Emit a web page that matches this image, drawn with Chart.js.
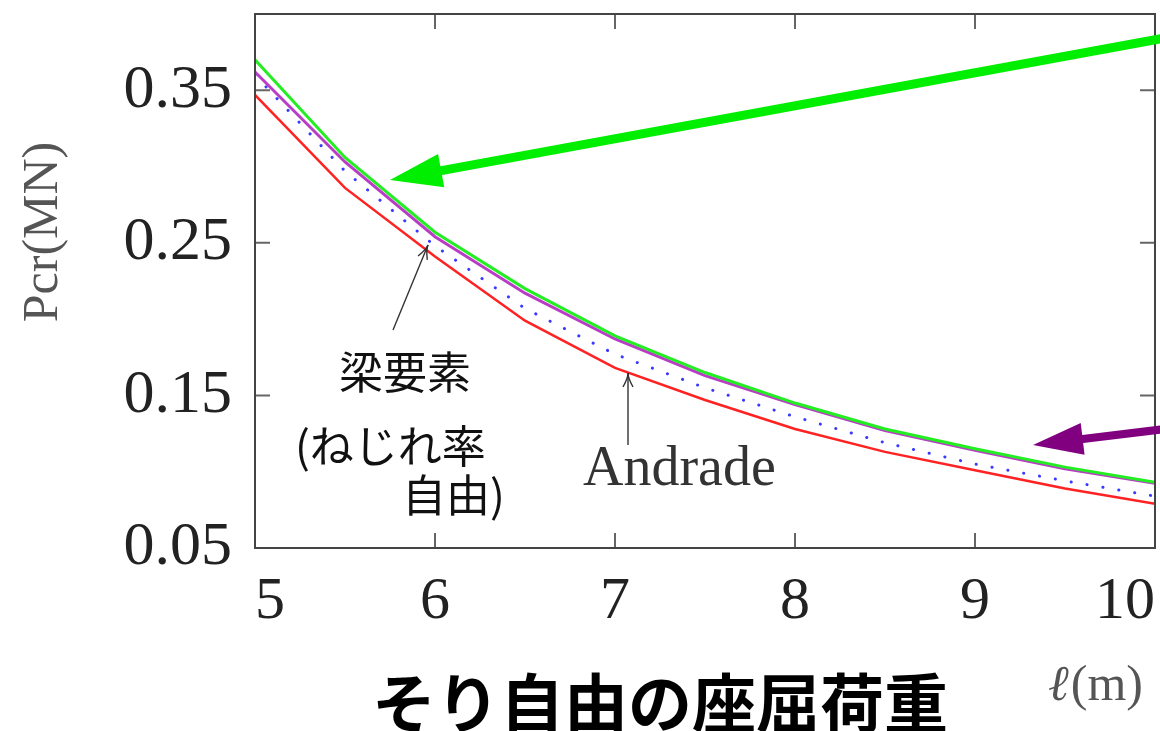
<!DOCTYPE html>
<html lang="ja">
<head>
<meta charset="UTF-8" />
<title>そり自由の座屈荷重</title>
<script src="https://cdn.jsdelivr.net/npm/chart.js"></script>
<style>
  html,body{margin:0;padding:0;background:#fff;}
  #wrap{width:1160px;height:731px;position:relative;}
</style>
</head>
<body>
<div id="wrap"><canvas id="chart" width="1160" height="731"></canvas></div>
<script>
// ── data ─────────────────────────────────────────────────────────────────
const lengths   = [5, 5.5, 6, 6.5, 7, 7.5, 8, 8.5, 9, 9.5, 10];            // ℓ (m)
const pcrGreen  = [0.370, 0.306, 0.257, 0.220, 0.189, 0.165, 0.145, 0.128, 0.115, 0.103, 0.093];
const pcrViolet = [0.362, 0.303, 0.254, 0.217, 0.187, 0.163, 0.144, 0.127, 0.114, 0.102, 0.0925];
const pcrBlue   = [0.360, 0.297, 0.248, 0.207, 0.177, 0.155, 0.136, 0.119, 0.105, 0.094, 0.084];
const pcrRed    = [0.347, 0.286, 0.241, 0.199, 0.168, 0.147, 0.128, 0.113, 0.101, 0.089, 0.079]; // Andrade
const yTickLabels = ['0.05', '0.15', '0.25', '0.35'];
const xTickLabels = ['5', '6', '7', '8', '9', '10'];

const pts = arr => arr.map((v, i) => ({x: lengths[i], y: v}));

// ── helpers ──────────────────────────────────────────────────────────────
function fatArrow(ctx, x0, y0, x1, y1, color, width, head, half){
  const a = Math.atan2(y1 - y0, x1 - x0), c = Math.cos(a), s = Math.sin(a);
  const bx = x1 - c*head, by = y1 - s*head;
  ctx.save();
  ctx.strokeStyle = color; ctx.fillStyle = color; ctx.lineWidth = width;
  ctx.beginPath(); ctx.moveTo(x0, y0); ctx.lineTo(bx + c*4, by + s*4); ctx.stroke();
  ctx.beginPath();
  ctx.moveTo(x1, y1);
  ctx.lineTo(bx - s*half, by + c*half);
  ctx.lineTo(bx + s*half, by - c*half);
  ctx.closePath(); ctx.fill();
  ctx.restore();
}
function thinArrow(ctx, x0, y0, x1, y1){
  const a = Math.atan2(y1 - y0, x1 - x0), c = Math.cos(a), s = Math.sin(a);
  const L = 14, W = 5;
  ctx.save();
  ctx.strokeStyle = '#333'; ctx.lineWidth = 1.4;
  ctx.beginPath(); ctx.moveTo(x0, y0); ctx.lineTo(x1, y1); ctx.stroke();
  ctx.beginPath();
  ctx.moveTo(x1 - c*L - s*W, y1 - s*L + c*W);
  ctx.quadraticCurveTo(x1 - c*5, y1 - s*5, x1, y1);
  ctx.quadraticCurveTo(x1 - c*5, y1 - s*5, x1 - c*L + s*W, y1 - s*L - c*W);
  ctx.stroke();
  ctx.restore();
}

// frame, inward ticks, annotations
const decor = {
  id: 'decor',
  afterDraw(chart){
    const {ctx, chartArea: ca, scales: {x, y}} = chart;
    ctx.save();
    ctx.strokeStyle = '#666'; ctx.lineWidth = 2;
    ctx.beginPath();
    y.ticks.forEach(t => {
      const py = y.getPixelForValue(t.value);
      ctx.moveTo(ca.left, py);  ctx.lineTo(ca.left + 15, py);
      ctx.moveTo(ca.right, py); ctx.lineTo(ca.right - 15, py);
    });
    x.ticks.forEach(t => {
      const px = x.getPixelForValue(t.value);
      ctx.moveTo(px, ca.bottom); ctx.lineTo(px, ca.bottom - 15);
      ctx.moveTo(px, ca.top);    ctx.lineTo(px, ca.top + 15);
    });
    ctx.stroke();
    ctx.strokeStyle = '#444';
    ctx.strokeRect(ca.left, ca.top, ca.right - ca.left, ca.bottom - ca.top);

    // y title
    ctx.fillStyle = '#555';
    ctx.font = '50px "Liberation Serif", serif';
    ctx.textAlign = 'center'; ctx.textBaseline = 'middle';
    ctx.save(); ctx.translate(44, 232); ctx.rotate(-Math.PI/2);
    ctx.fillText('Pcr(MN)', 0, 0);
    ctx.restore();

    // x title ℓ(m)
    ctx.textAlign = 'left'; ctx.textBaseline = 'alphabetic';
    ctx.font = 'italic 50px "Liberation Serif", serif';
    ctx.fillText('ℓ', 1048, 700);
    const lw = ctx.measureText('ℓ').width;
    ctx.font = '50px "Liberation Serif", serif';
    ctx.fillText('(m)', 1048 + lw + 2, 700);

    // Andrade
    ctx.fillStyle = '#333';
    ctx.font = '56px "Liberation Serif", serif';
    ctx.fillText('Andrade', 583, 485);

    // 梁要素 label
    ctx.fillStyle = '#111';
    ctx.font = '44px "Noto Sans CJK JP", sans-serif';
    ctx.textBaseline = 'middle';
    ctx.textAlign = 'center';
    ctx.fillText('梁要素', 405, 372);
    ctx.textAlign = 'left';
    ctx.fillText('(ねじれ率', 295, 446);
    ctx.fillText('自由)', 402, 495);

    // chart title
    ctx.fillStyle = '#000';
    ctx.font = 'bold 64px "Noto Sans CJK JP", sans-serif';
    ctx.textAlign = 'center';
    ctx.fillText('そり自由の座屈荷重', 660, 703);

    thinArrow(ctx, 393, 330, 428, 245);
    thinArrow(ctx, 628, 445, 628, 373);
    fatArrow(ctx, 1165, 38, 390, 180, '#00ee00', 9, 52, 17);
    fatArrow(ctx, 1165, 429, 1033, 445, '#800080', 8, 50, 16);
    ctx.restore();
  }
};

new Chart(document.getElementById('chart'), {
  type: 'line',
  data: {
    datasets: [
      {data: pts(pcrGreen),  borderColor: '#22ee22', borderWidth: 3},
      {data: pts(pcrViolet), borderColor: '#b83cc4', borderWidth: 3},
      {data: pts(pcrBlue),   borderColor: '#3a3aff', borderWidth: 3,
       borderDash: [0.1, 16], borderCapStyle: 'round'},
      {data: pts(pcrRed),    borderColor: '#ff2222', borderWidth: 2.5}
    ]
  },
  options: {
    responsive: false,
    animation: false,
    layout: {padding: {left: 0, right: 5, top: 14, bottom: 0}},
    elements: {point: {radius: 0}, line: {tension: 0, fill: false}},
    plugins: {legend: {display: false}, tooltip: {enabled: false}},
    scales: {
      x: {
        type: 'linear', min: 5, max: 10,
        grid: {display: false, drawTicks: false}, border: {display: false},
        ticks: {stepSize: 1, padding: 18, color: '#222', maxRotation: 0, align: 'inner',
                font: {family: '"Liberation Serif", serif', size: 60},
                callback: v => xTickLabels.includes(String(v)) ? String(v) : ''},
        afterFit: s => { s.height = 183; s.paddingLeft = 0; s.paddingRight = 0; }
      },
      y: {
        min: 0.05, max: 0.40,
        grid: {display: false, drawTicks: false}, border: {display: false},
        ticks: {stepSize: 0.05, padding: 23, color: '#222',
                font: {family: '"Liberation Serif", serif', size: 62},
                callback: v => { const s = v.toFixed(2); return yTickLabels.includes(s) ? s : ''; }},
        afterFit: s => { s.width = 255; s.paddingTop = 0; s.paddingBottom = 0; }
      }
    }
  },
  plugins: [decor]
});
</script>
</body>
</html>
